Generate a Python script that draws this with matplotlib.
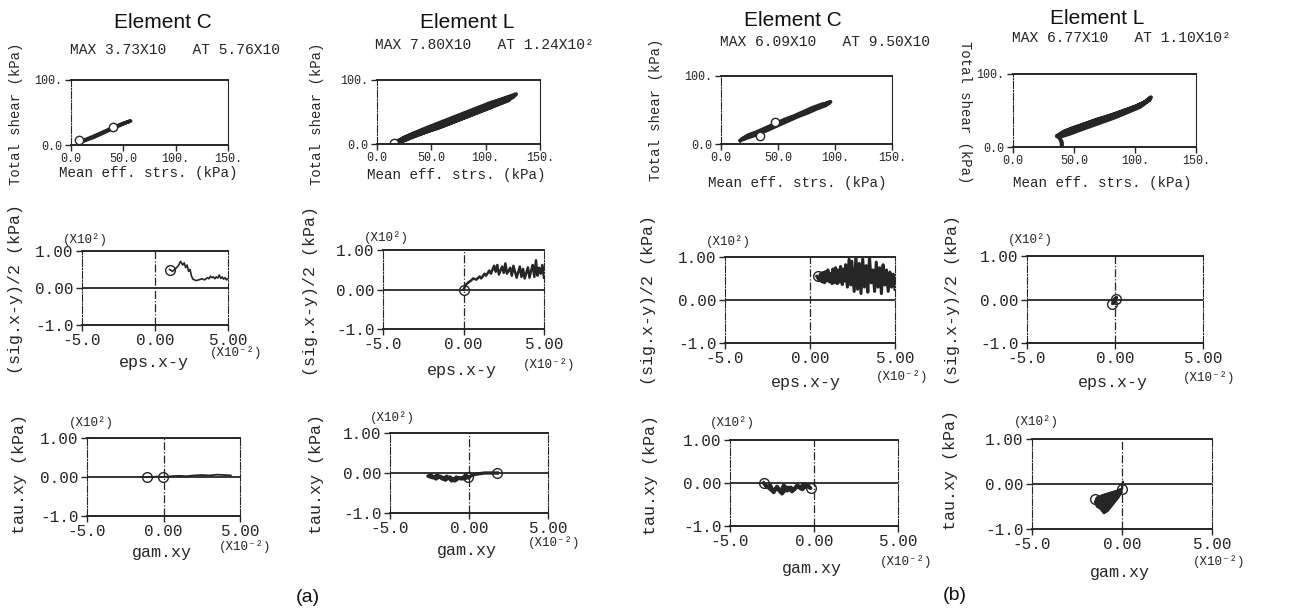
import matplotlib
matplotlib.use('Agg')
import matplotlib.pyplot as plt

plt.rcParams['font.family'] = ['Liberation Mono', 'DejaVu Sans Mono']

INK = '#262626'
W = 1290
H = 612

# ---- top row: total shear vs mean effective stress (kPa)
a1_p = [8, 11, 15, 21, 28, 35, 42, 48, 53, 57, 52, 45, 38, 30, 22, 15, 10, 8]
a1_q = [3, 6, 9, 13, 18, 23, 28, 32, 35, 37, 34, 29, 24, 18, 12, 8, 5, 4]
a1_cp = [8, 40]
a1_cq = [8, 27]

a2_p = [16, 18, 24, 32, 42, 54, 66, 78, 90, 102, 113, 122, 128, 125, 116, 104, 92, 80, 68, 56, 45,
        35, 27, 21, 24, 33, 44, 56, 68, 80, 92, 104, 115, 124, 121, 110, 98, 86, 74, 62, 50, 39, 30, 24, 28]
a2_q = [1, 4, 9, 15, 21, 29, 37, 45, 53, 61, 68, 74, 78, 73, 66, 57, 49, 41, 33, 25, 19,
        13, 8, 4, 9, 16, 24, 32, 40, 48, 56, 64, 70, 75, 68, 61, 53, 45, 37, 29, 22, 15, 9, 5, 8]
a2_cp = [16]
a2_cq = [2]

b1_p = [17, 22, 28, 35, 42, 50, 58, 66, 74, 82, 90, 96, 92, 84, 76, 68, 60, 52, 44, 36, 28, 21, 18,
        24, 32, 40, 48, 56, 64, 72, 80, 88, 94]
b1_q = [5, 10, 14, 19, 24, 30, 35, 41, 46, 52, 58, 62, 57, 52, 46, 41, 35, 29, 23, 17, 12, 8, 7,
        13, 18, 24, 30, 36, 41, 47, 53, 58, 60]
b1_cp = [34, 47]
b1_cq = [12, 32]

b2_p = [40, 40, 39, 38, 36, 42, 50, 60, 70, 80, 90, 100, 108, 113, 110, 102, 92, 82, 72, 62, 52, 44, 38,
        41, 48, 57, 67, 77, 87, 97, 106, 112, 104, 94, 84, 74, 64, 54, 46, 40]
b2_q = [0, 6, 10, 13, 15, 21, 26, 32, 38, 43, 49, 55, 61, 68, 63, 56, 49, 42, 36, 30, 24, 19, 15,
        20, 25, 30, 36, 41, 47, 53, 59, 65, 55, 48, 41, 35, 29, 23, 18, 15]
b2_cp = []
b2_cq = []

# ---- middle row: (sig.x-y)/2 (x10^2 kPa) vs eps.x-y (x10^-2)
a3_e = [1.0, 1.2, 1.4, 1.6, 1.75, 1.9, 2.0, 2.1, 2.2, 2.3, 2.4, 2.5, 2.6, 2.8, 3.0, 3.2, 3.4, 3.6,
        3.7, 3.8, 3.9, 4.0, 4.1, 4.2, 4.3, 4.4, 4.5, 4.6, 4.7, 4.8, 4.9, 5.0]
a3_s = [0.50, 0.45, 0.52, 0.60, 0.72, 0.62, 0.68, 0.55, 0.62, 0.45, 0.50, 0.32, 0.24, 0.20, 0.22, 0.25,
        0.22, 0.28, 0.25, 0.32, 0.28, 0.30, 0.25, 0.30, 0.27, 0.35, 0.26, 0.30, 0.24, 0.28, 0.22, 0.25]
a3_ce = [1.0]
a3_cs = [0.5]

a4_e = [0.0, 0.15, 0.3, 0.45, 0.6, 0.8, 1.0, 1.1, 1.3, 1.4, 1.6, 1.7, 1.9, 2.0, 2.1, 2.2, 2.4, 2.5,
        2.6, 2.7, 2.9, 3.0, 3.1, 3.2, 3.3, 3.5, 3.6, 3.7, 3.8, 4.0, 4.1, 4.2, 4.3, 4.4, 4.5, 4.6,
        4.7, 4.8, 4.9, 5.0]
a4_s = [0.0, 0.12, 0.18, 0.22, 0.28, 0.25, 0.33, 0.28, 0.40, 0.35, 0.48, 0.40, 0.60, 0.45, 0.62, 0.38,
        0.58, 0.42, 0.66, 0.40, 0.55, 0.35, 0.60, 0.45, 0.30, 0.58, 0.32, 0.52, 0.28, 0.56, 0.30, 0.48,
        0.62, 0.32, 0.74, 0.35, 0.55, 0.40, 0.62, 0.30]
a4_ce = [0.0]
a4_cs = [-0.02]

b3_e = [0.4, 0.55, 0.6, 0.7, 0.75, 0.85, 0.9, 1.0, 1.05, 1.15, 1.2, 1.3, 1.35, 1.45, 1.5, 1.6, 1.65,
        1.75, 1.8, 1.9, 1.95, 2.05, 2.1, 2.2, 2.3, 2.4, 2.45, 2.6, 2.7, 2.8, 2.9, 3.0, 3.1, 3.2, 3.3,
        3.4, 3.5, 3.6, 3.7, 3.8, 3.9, 4.0, 4.1, 4.2, 4.3, 4.4, 4.5, 4.6, 4.7, 4.8, 4.9, 5.0]
b3_s = [0.55, 0.45, 0.60, 0.42, 0.64, 0.40, 0.66, 0.44, 0.70, 0.42, 0.62, 0.38, 0.72, 0.40, 0.75, 0.38,
        0.70, 0.42, 0.78, 0.36, 0.72, 0.44, 0.82, 0.30, 0.95, 0.35, 0.90, 0.20, 1.00, 0.25, 0.85, 0.15,
        0.95, 0.30, 0.80, 0.18, 1.00, 0.40, 0.70, 0.20, 0.88, 0.30, 0.75, 0.15, 0.82, 0.35, 0.70, 0.20,
        0.65, 0.30, 0.60, 0.25]
b3_ce = [0.45]
b3_cs = [0.55]

b4_e = [0.0, -0.1, -0.15, -0.05, 0.05, 0.1, 0.0, -0.1, 0.05]
b4_s = [0.0, -0.05, -0.1, -0.08, 0.02, 0.05, 0.03, -0.02, 0.0]
b4_ce = [-0.15, 0.05]
b4_cs = [-0.1, 0.02]

# ---- bottom row: tau.xy (x10^2 kPa) vs gam.xy (x10^-2)
a5_g = [-1.5, -1.2, -0.8, -0.4, 0.0, 0.5, 1.0, 1.5, 2.0, 2.5, 3.0, 3.5, 4.0, 4.4]
a5_t = [0.0, 0.0, 0.0, 0.01, 0.0, 0.02, 0.03, 0.02, 0.04, 0.05, 0.04, 0.06, 0.05, 0.04]
a5_cg = [-1.1, -0.05]
a5_ct = [0.0, 0.0]

a6_g = [1.8, 1.4, 1.0, 0.6, 0.2, 0.0, -0.3, -0.6, -0.9, -1.2, -1.5, -1.8, -2.1, -2.4, -2.6, -2.3,
        -2.0, -1.7, -1.4, -1.1, -0.8, -0.5, -0.2, 0.0]
a6_t = [0.0, 0.0, 0.0, -0.02, -0.05, -0.1, -0.15, -0.12, -0.2, -0.1, -0.18, -0.08, -0.15, -0.05, -0.08,
        -0.12, -0.05, -0.15, -0.08, -0.2, -0.1, -0.15, -0.05, -0.12]
a6_cg = [1.8, -0.05]
a6_ct = [0.0, -0.1]

b5_g = [-3.0, -2.8, -2.6, -2.4, -2.2, -2.0, -1.8, -1.6, -1.4, -1.2, -1.0, -0.8, -0.6, -0.4, -0.2,
        -0.4, -0.7, -1.0, -1.3, -1.6, -1.9, -2.2, -2.5, -2.8]
b5_t = [0.0, -0.1, -0.05, -0.22, -0.08, -0.2, -0.05, -0.18, -0.1, -0.15, -0.05, -0.1, -0.02, -0.08,
        -0.12, -0.05, -0.15, -0.08, -0.2, -0.1, -0.25, -0.12, -0.18, -0.08]
b5_cg = [-3.0, -0.2]
b5_ct = [0.0, -0.12]

# outline of the dense blob for element L (b)
b6_g = [0.05, 0.0, -0.3, -0.7, -1.1, -1.4, -1.5, -1.4, -1.2, -1.0, -0.8, -0.6, -0.4, -0.2, -0.05, 0.0]
b6_t = [0.05, -0.1, -0.15, -0.2, -0.25, -0.3, -0.4, -0.5, -0.55, -0.65, -0.6, -0.5, -0.4, -0.3, -0.2, -0.1]
b6_cg = [-1.5, 0.0]
b6_ct = [-0.33, -0.12]

titles = ['Element C', 'Element L', 'Element C', 'Element L']
max_texts = ['MAX 3.73X10   AT 5.76X10', 'MAX 7.80X10   AT 1.24X10\u00b2',
             'MAX 6.09X10   AT 9.50X10', 'MAX 6.77X10   AT 1.10X10\u00b2']

fig = plt.figure(figsize=(12.9, 6.12), dpi=100)


def box(l, t, r, b):
    return [l / W, 1 - b / H, (r - l) / W, (b - t) / H]


def ftext(x, y, s, **kw):
    fig.text(x / W, 1 - y / H, s, **kw)


def style_axes(ax, top_row):
    ax.spines['top'].set_linewidth(1.4)
    ax.spines['bottom'].set_linewidth(1.4)
    ax.spines['left'].set_linestyle('-.')
    ax.spines['left'].set_linewidth(0.8)
    ax.spines['right'].set_linestyle('-.' if not top_row else '-')
    ax.spines['right'].set_linewidth(0.8)
    for s in ax.spines.values():
        s.set_color(INK)
    ax.tick_params(direction='out', length=4, width=1, pad=2, colors=INK,
                   labelsize=8.5 if top_row else 11.5)


# top row
top_boxes = [(71, 80, 228, 145), (377, 80, 540, 144), (721, 76, 892, 144), (1013, 74, 1196, 147)]
top_data = [(a1_p, a1_q, a1_cp, a1_cq), (a2_p, a2_q, a2_cp, a2_cq),
            (b1_p, b1_q, b1_cp, b1_cq), (b2_p, b2_q, b2_cp, b2_cq)]
top_lw = [2.6, 2.8, 2.8, 3.0]
for i in range(4):
    ax = fig.add_axes(box(*top_boxes[i]))
    p, q, cp, cq = top_data[i]
    ax.plot(p, q, color=INK, lw=top_lw[i], solid_joinstyle='round')
    if len(cp) > 0:
        ax.plot(cp, cq, 'o', ms=6, mfc='white', mec=INK, mew=1)
    ax.set_xlim(0, 150)
    ax.set_ylim(0, 100)
    ax.set_xticks([0, 50, 100, 150])
    ax.set_xticklabels(['0.0', '50.0', '100.', '150.'])
    ax.set_yticks([0, 100])
    ax.set_yticklabels(['0.0', '100.'])
    style_axes(ax, True)

# middle and bottom rows
mid_boxes = [(82, 251, 228, 325), (383, 250, 544, 329), (725, 257, 895, 343), (1027, 256, 1203, 343)]
mid_data = [(a3_e, a3_s, a3_ce, a3_cs), (a4_e, a4_s, a4_ce, a4_cs),
            (b3_e, b3_s, b3_ce, b3_cs), (b4_e, b4_s, b4_ce, b4_cs)]
mid_lw = [1.2, 1.8, 2.2, 2.0]
bot_boxes = [(87, 438, 240, 516), (390, 433, 548, 513), (730, 440, 898, 526), (1032, 439, 1212, 529)]
bot_data = [(a5_g, a5_t, a5_cg, a5_ct), (a6_g, a6_t, a6_cg, a6_ct),
            (b5_g, b5_t, b5_cg, b5_ct), (b6_g, b6_t, b6_cg, b6_ct)]
bot_lw = [1.3, 2.4, 2.6, 1.5]

for row, (boxes, data, lws) in enumerate([(mid_boxes, mid_data, mid_lw), (bot_boxes, bot_data, bot_lw)]):
    for i in range(4):
        ax = fig.add_axes(box(*boxes[i]))
        x, y, cx, cy = data[i]
        ax.axhline(0, color=INK, lw=1.3, zorder=1)
        ax.axvline(0, color=INK, lw=0.9, ls='-.', zorder=1)
        if row == 1 and i == 3:
            ax.fill(x, y, color=INK, zorder=2)
        ax.plot(x, y, color=INK, lw=lws[i], solid_joinstyle='round', zorder=2)
        ax.plot(cx, cy, 'o', ms=7, mfc='none', mec=INK, mew=1, zorder=3)
        ax.set_xlim(-5, 5)
        ax.set_ylim(-1, 1)
        ax.set_xticks([-5, 0, 5])
        ax.set_xticklabels(['-5.0', '0.00', '5.00'])
        ax.set_yticks([-1, 0, 1])
        ax.set_yticklabels(['-1.0', '0.00', '1.00'])
        style_axes(ax, False)

# column titles and max text
title_pos = [(163, 22), (467, 22), (793, 20), (1097, 18)]
max_pos = [(70, 50), (375, 45), (720, 42), (1012, 38)]
for i in range(4):
    ftext(title_pos[i][0], title_pos[i][1], titles[i], family='Liberation Sans', fontsize=15,
          ha='center', va='center', color='#111111')
    ftext(max_pos[i][0], max_pos[i][1], max_texts[i], fontsize=10.5, ha='left', va='center', color=INK)

# top row axis labels
ylab_top = [(16, 114, 90), (317, 114, 90), (656, 110, 90), (965, 112, 270)]
for x, y, r in ylab_top:
    ftext(x, y, 'Total shear (kPa)', fontsize=10, rotation=r, ha='center', va='center', color=INK)
xlab_top = [(148, 173), (456, 175), (797, 183), (1102, 183)]
for x, y in xlab_top:
    ftext(x, y, 'Mean eff. strs. (kPa)', fontsize=10.3, ha='center', va='center', color=INK)

# middle row labels
ylab_mid = [(16, 289), (310, 291), (648, 300), (952, 300)]
for x, y in ylab_mid:
    ftext(x, y, '(sig.x-y)/2 (kPa)', fontsize=12, rotation=90, ha='center', va='center', color=INK)
xlab_mid = [(154, 362), (462, 370), (806, 382), (1113, 383)]
for x, y in xlab_mid:
    ftext(x, y, 'eps.x-y', fontsize=12, ha='center', va='center', color=INK)
xexp_mid = [(236, 353), (549, 365), (902, 377), (1209, 378)]
yexp_mid = [(85, 240), (386, 238), (728, 242), (1030, 240)]

# bottom row labels
ylab_bot = [(20, 474), (317, 474), (650, 475), (950, 470)]
for x, y in ylab_bot:
    ftext(x, y, 'tau.xy (kPa)', fontsize=12, rotation=90, ha='center', va='center', color=INK)
xlab_bot = [(162, 553), (467, 550), (812, 568), (1120, 573)]
for x, y in xlab_bot:
    ftext(x, y, 'gam.xy', fontsize=12, ha='center', va='center', color=INK)
xexp_bot = [(245, 547), (554, 543), (906, 562), (1219, 562)]
yexp_bot = [(91, 423), (392, 418), (732, 423), (1036, 422)]

for x, y in xexp_mid + xexp_bot:
    ftext(x, y, '(X10\u207b\u00b2)', fontsize=9, ha='center', va='center', color=INK)
for x, y in yexp_mid + yexp_bot:
    ftext(x, y, '(X10\u00b2)', fontsize=9, ha='center', va='center', color=INK)

ftext(308, 597, '(a)', family='Liberation Sans', fontsize=14, ha='center', va='center', color='#111111')
ftext(955, 595, '(b)', family='Liberation Sans', fontsize=14, ha='center', va='center', color='#111111')

fig.savefig('out.png', dpi=100, facecolor='white')
